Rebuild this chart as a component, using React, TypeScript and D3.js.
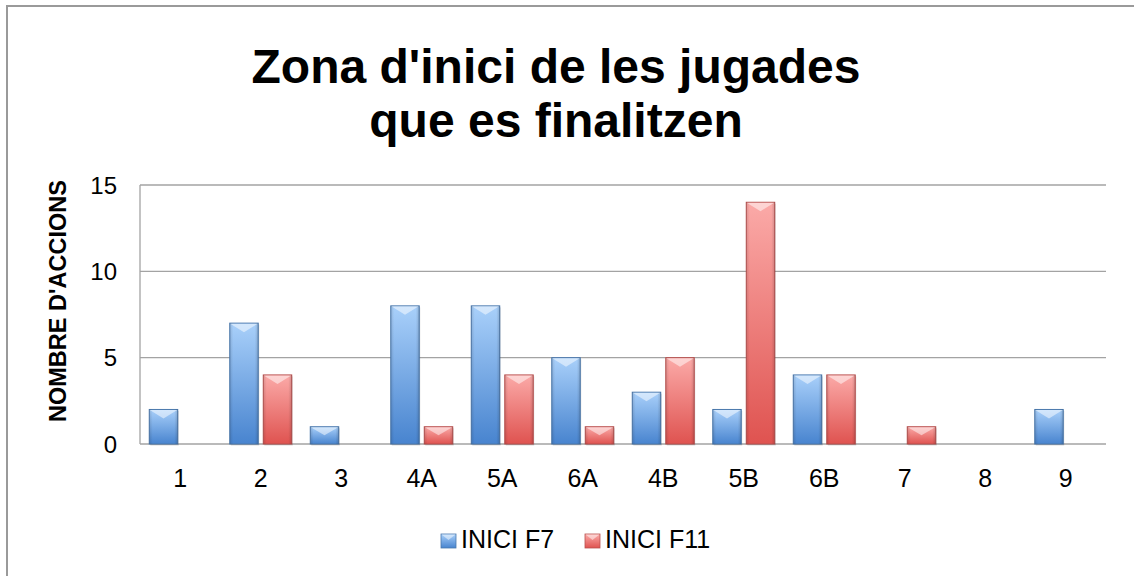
import React, { useEffect, useRef } from "react";
import * as d3 from "d3";

const categories = ["1", "2", "3", "4A", "5A", "6A", "4B", "5B", "6B", "7", "8", "9"];
const seriesNames = ["INICI F7", "INICI F11"];
const iniciF7 = [2, 7, 1, 8, 8, 5, 3, 2, 4, 0, 0, 2];
const iniciF11 = [0, 4, 0, 1, 4, 1, 5, 14, 4, 1, 0, 0];
const yTicks = [0, 5, 10, 15];

const FONT = "'Liberation Sans', Arial, Helvetica, sans-serif";

export default function App() {
  const svgRef = useRef<SVGSVGElement>(null);

  useEffect(() => {
    const width = 1134;
    const height = 576;
    const root = d3.select(svgRef.current);
    root.selectAll("*").remove();
    root.attr("width", width).attr("height", height);

    const plot = { left: 140, right: 1106, top: 185, bottom: 444 };

    const defs = root.append("defs");
    const palettes = [
      { id: "blue", top: "#a9d0fa", bottom: "#4884cf", stroke: "#4a78ad" },
      { id: "red", top: "#fbaaa8", bottom: "#df5350", stroke: "#b8504e" },
    ];
    palettes.forEach(p => {
      const g = defs.append("linearGradient").attr("id", `grad-${p.id}`)
        .attr("x1", 0).attr("y1", 0).attr("x2", 0).attr("y2", 1);
      g.append("stop").attr("offset", "0%").attr("stop-color", p.top);
      g.append("stop").attr("offset", "100%").attr("stop-color", p.bottom);
    });
    // side shading for the bevel look
    const side = defs.append("linearGradient").attr("id", "side")
      .attr("x1", 0).attr("y1", 0).attr("x2", 1).attr("y2", 0);
    side.append("stop").attr("offset", "0%").attr("stop-color", "#000").attr("stop-opacity", 0.12);
    side.append("stop").attr("offset", "12%").attr("stop-color", "#000").attr("stop-opacity", 0);
    side.append("stop").attr("offset", "88%").attr("stop-color", "#000").attr("stop-opacity", 0);
    side.append("stop").attr("offset", "100%").attr("stop-color", "#000").attr("stop-opacity", 0.15);

    // background + chart border (right and bottom edges fall outside the picture)
    root.append("rect").attr("width", width).attr("height", height).attr("fill", "#fff");
    root.append("rect")
      .attr("x", 7).attr("y", 6).attr("width", 1200).attr("height", 700)
      .attr("fill", "none").attr("stroke", "#9a9a9a").attr("stroke-width", 2);

    // title
    const title = root.append("text")
      .attr("text-anchor", "middle")
      .style("font-family", FONT)
      .style("font-weight", "bold")
      .style("font-size", "48px")
      .attr("fill", "#000");
    title.append("tspan").attr("x", 556).attr("y", 83).text("Zona d'inici de les jugades");
    title.append("tspan").attr("x", 556).attr("y", 137).text("que es finalitzen");

    const x = d3.scaleBand<string>()
      .domain(categories)
      .range([plot.left, plot.right])
      .padding(0);

    const groupWidth = x.bandwidth() * 0.77;
    const xs = d3.scaleBand<string>()
      .domain(seriesNames)
      .range([0, groupWidth])
      .paddingInner(0.15);

    const y = d3.scaleLinear()
      .domain([0, 15])
      .range([plot.bottom, plot.top]);

    // gridlines
    root.append("g")
      .selectAll("line")
      .data(yTicks)
      .enter()
      .append("line")
      .attr("x1", plot.left).attr("x2", plot.right)
      .attr("y1", d => y(d)).attr("y2", d => y(d))
      .attr("stroke", "#a3a3a3").attr("stroke-width", 1.3);

    // left axis line
    root.append("line")
      .attr("x1", plot.left).attr("x2", plot.left)
      .attr("y1", plot.top).attr("y2", plot.bottom)
      .attr("stroke", "#a3a3a3").attr("stroke-width", 1.3);

    // y tick labels
    root.append("g")
      .selectAll("text")
      .data(yTicks)
      .enter()
      .append("text")
      .attr("x", 117)
      .attr("y", d => y(d))
      .attr("dy", "0.36em")
      .attr("text-anchor", "end")
      .style("font-family", FONT)
      .style("font-size", "24px")
      .text(d => d);

    // x tick labels
    root.append("g")
      .selectAll("text")
      .data(categories)
      .enter()
      .append("text")
      .attr("x", d => (x(d) as number) + x.bandwidth() / 2)
      .attr("y", 486.5)
      .attr("text-anchor", "middle")
      .style("font-family", FONT)
      .style("font-size", "25px")
      .text(d => d);

    // y axis title
    root.append("text")
      .attr("transform", "translate(66,301) rotate(-90)")
      .attr("text-anchor", "middle")
      .style("font-family", FONT)
      .style("font-weight", "bold")
      .style("font-size", "23.5px")
      .text("NOMBRE D'ACCIONS");

    // bars
    const rows = categories.flatMap((c, i) => [
      { cat: c, s: seriesNames[0], v: iniciF7[i], p: palettes[0] },
      { cat: c, s: seriesNames[1], v: iniciF11[i], p: palettes[1] },
    ]).filter(d => d.v > 0);

    const bars = root.append("g")
      .selectAll("g")
      .data(rows)
      .enter()
      .append("g")
      .attr("transform", d => {
        const gx = (x(d.cat) as number) + (x.bandwidth() - groupWidth) / 2 + (xs(d.s) as number);
        return `translate(${gx},${y(d.v)})`;
      });

    const bw = xs.bandwidth();
    // soft shadow
    bars.append("rect")
      .attr("x", 1).attr("y", 1.5)
      .attr("width", bw).attr("height", d => plot.bottom - y(d.v))
      .attr("fill", "#000").attr("opacity", 0.15);
    bars.append("rect")
      .attr("width", bw).attr("height", d => plot.bottom - y(d.v))
      .attr("fill", d => `url(#grad-${d.p.id})`)
      .attr("stroke", d => d.p.stroke).attr("stroke-width", 1);
    bars.append("rect")
      .attr("width", bw).attr("height", d => plot.bottom - y(d.v))
      .attr("fill", "url(#side)");
    // bevel chevron on top
    bars.append("path")
      .attr("d", d => {
        const h = Math.min(9, (plot.bottom - y(d.v)) / 2);
        return `M0.5,0.5 L${bw - 0.5},0.5 L${bw / 2},${h} Z`;
      })
      .attr("fill", "#fff").attr("opacity", 0.5);

    // legend
    const legendItems = [
      { name: seriesNames[0], p: palettes[0], x: 441 },
      { name: seriesNames[1], p: palettes[1], x: 585 },
    ];
    const lg = root.append("g")
      .selectAll("g")
      .data(legendItems)
      .enter()
      .append("g")
      .attr("transform", d => `translate(${d.x},534)`);
    lg.append("rect")
      .attr("width", 15).attr("height", 14)
      .attr("fill", d => `url(#grad-${d.p.id})`)
      .attr("stroke", d => d.p.stroke).attr("stroke-width", 0.8);
    lg.append("path")
      .attr("d", "M0.5,0.5 L14.5,0.5 L7.5,6 Z")
      .attr("fill", "#fff").attr("opacity", 0.5);
    lg.append("text")
      .attr("x", 20).attr("y", 13.5)
      .style("font-family", FONT)
      .style("font-size", "25px")
      .text(d => d.name);
  }, []);

  return (
    <div style={{ position: "absolute", left: 0, top: 0 }}>
      <svg ref={svgRef} style={{ display: "block" }}></svg>
    </div>
  );
}
